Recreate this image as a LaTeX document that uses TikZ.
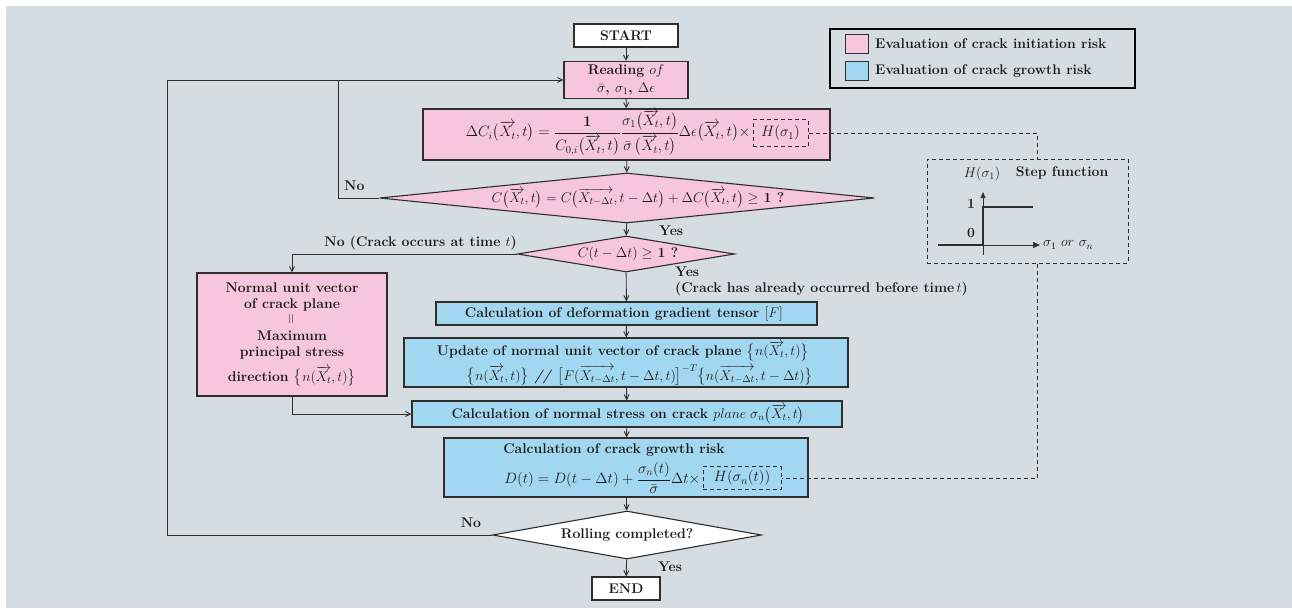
\RequirePackage{fix-cm}
\documentclass[tikz,border=0pt]{standalone}
\usepackage{amsmath}
\usetikzlibrary{shapes.geometric,arrows.meta}
\definecolor{bgc}{RGB}{213,221,227}
\definecolor{pinkc}{RGB}{245,198,221}
\definecolor{bluec}{RGB}{162,215,242}
\definecolor{linec}{RGB}{50,45,45}
\definecolor{txtc}{RGB}{30,25,25}
\newcommand\fs{\fontsize{14}{16}\selectfont\bfseries}
\newcommand\fm{\fontsize{15}{17}\selectfont\bfseries}
\newcommand\ovX[1]{\overrightarrow{X_{#1}}}
\tikzset{
  every node/.style={font=\fs, inner sep=0pt, text=txtc},
  box/.style={draw=linec, line width=1.1pt, rectangle, inner sep=0pt},
  dia/.style={draw=linec, line width=1.1pt, diamond, inner sep=0pt},
  arr/.style={draw=linec, line width=0.9pt, -{Straight Barb[length=5pt,width=5pt]}},
  conn/.style={draw=linec, line width=0.9pt},
  dsh/.style={draw=linec, line width=1pt, dash pattern=on 4pt off 3pt},
}
\begin{document}
\begin{tikzpicture}[x=1pt,y=-1pt]
\useasboundingbox (0,0) rectangle (1292,608);
\fill[white] (0,0) rectangle (1292,608);
\fill[bgc] (6,6) rectangle (1292,608);

% main column
\node[box, fill=white, minimum width=104, minimum height=23] (start) at (626,35.5) {START};
\node[box, fill=pinkc, minimum width=124, minimum height=37, align=center] (read) at (626,80)
  {\fontsize{14}{15}\selectfont Reading $of$\\[1.5pt] $\bar\sigma$\textbf{,} $\sigma_1$\textbf{,} $\Delta\epsilon$};
\node[box, fill=pinkc, minimum width=407, minimum height=51] (dc) at (626.5,134.5) {};
\node[dsh, inner sep=2pt, minimum width=55, minimum height=27, font=\fm] (hs1) at (780.5,133) {\mdseries $H(\sigma_1)$};
\node[anchor=east, font=\fm] (dcf) at ([xshift=-2pt]hs1.west)
  {$\Delta C_i\big(\ovX{t},t\big)=\dfrac{\mathbf{1}}{C_{0,i}\big(\ovX{t},t\big)}\dfrac{\sigma_1\big(\ovX{t},t\big)}{\bar\sigma\,\big(\ovX{t},t\big)}\Delta\epsilon\big(\ovX{t},t\big)\times$};

\node[dia, fill=pinkc, minimum width=495, minimum height=50] (d1) at (627,198) {};
\node (d1t) at (638,198) {$C\big(\ovX{t},t\big)=C\big(\ovX{t-\Delta t},t-\Delta t\big)+\Delta C\big(\ovX{t},t\big)\geq$ \textbf{1 ?}};

\node[dia, fill=pinkc, minimum width=217, minimum height=36] (d2) at (626,254) {};
\node (d2t) at (628,254) {$C(t-\Delta t)\geq$ \textbf{1 ?}};

\node[box, fill=pinkc, minimum width=190, minimum height=123, align=center] (norm) at (292,334.5)
  {\fontsize{14}{15.5}\selectfont Normal unit vector\\ of crack plane\\ \rotatebox{90}{$=$}\\ Maximum\\ principal stress\\[6pt] direction $\big\{n(\ovX{t},t)\big\}$};

\node[box, fill=bluec, minimum width=381, minimum height=23] (def) at (626.5,313.5) {};
\node (deft) at (624,313.5) {Calculation of deformation gradient tensor $[F]$};

\node[box, fill=bluec, minimum width=444, minimum height=49] (upd) at (626,362.5) {};
\node (updt1) at (623,351) {Update of normal unit vector of crack plane $\big\{n(\ovX{t},t)\big\}$};
\node (updt2) at (640,375) {$\big\{n(\ovX{t},t)\big\}$ \textbf{\textit{//}} $\big[F(\ovX{t-\Delta t},t-\Delta t,t)\big]^{-T}\big\{n(\ovX{t-\Delta t},t-\Delta t)\big\}$};

\node[box, fill=bluec, minimum width=430, minimum height=26] (stress) at (627,414) {};
\node (stresst) at (628,414) {Calculation of normal stress on crack $plane\;\sigma_n\big(\ovX{t},t\big)$};

\node[box, fill=bluec, minimum width=364, minimum height=59] (grow) at (626,467.5) {};
\node (growt) at (614,450) {Calculation of crack growth risk};
\node[dsh, inner sep=2pt, minimum width=78, minimum height=23, font=\fm] (hsn) at (742,478) {\mdseries $H(\sigma_n(t))$};
\node[anchor=east, font=\fm] (growf) at ([xshift=-2pt]hsn.west) {$D(t)=D(t-\Delta t)+\dfrac{\sigma_n(t)}{\bar\sigma}\Delta t\times$};

\node[dia, fill=white, minimum width=269, minimum height=48] (d3) at (627,535) {};
\node (d3t) at (627,535) {Rolling completed?};

\node[box, fill=white, minimum width=68, minimum height=23] (end) at (626,588.5) {END};

% connectors
\draw[arr] (start) -- (read);
\draw[arr] (read) -- (dc);
\draw[arr] (dc) -- (d1);
\draw[arr] (d1) -- (d2);
\draw[arr] (d2) -- (def);
\draw[arr] (def) -- (upd);
\draw[arr] (upd) -- (stress);
\draw[arr] (stress) -- (grow);
\draw[arr] (grow) -- (d3);
\draw[arr] (d3) -- (end);
\draw[arr] (d2.west) -| (norm.north);
\draw[arr] (norm.south) |- (stress.west);
\coordinate (lft) at (167,535);
\coordinate (j1) at (338,80);
\draw[arr] (d3.west) -- (lft) |- (read.west);
\draw[conn] (d1.west) -| (j1);

% labels
\node[anchor=west] (no1) at (344,186) {No};
\node[anchor=west] (yes1) at (659,231) {Yes};
\node[anchor=east] (no2) at (517,243) {No (Crack occurs at time $t$)};
\node[anchor=north west, align=left] (yes2) at (675,267) {Yes\\(Crack has already occurred before time\,$t$)};
\node (no3) at (471,523) {No};
\node (yes3) at (670,567) {Yes};

% legend
\node[draw=black, line width=2pt, minimum width=305, minimum height=59] (leg) at (982.5,58.5) {};
\node[box, fill=pinkc, line width=0.8pt, minimum width=23, minimum height=19] (lp) at (856.5,44) {};
\node[box, fill=bluec, line width=0.8pt, minimum width=23, minimum height=19] (lb) at (856.5,71) {};
\node[anchor=west] (lpt) at (875,44) {Evaluation of crack initiation risk};
\node[anchor=west] (lbt) at (875,71) {Evaluation of crack growth risk};

% step function
\node[dsh, minimum width=201, minimum height=104] (stepb) at (1027.5,211) {};
\draw[dsh] (hs1.east) -| ([xshift=9.5pt]stepb.north);
\draw[dsh] ([xshift=9.5pt]stepb.south) |- (hsn.east);
\node (hlab) at (982,174) {\mdseries $H(\sigma_1)$};
\node (slab) at (1062,173) {Step function};
\draw[linec, line width=0.6pt, -{Triangle[length=6pt,width=5pt]}] (983,255) -- (983,192);
\draw[linec, line width=0.6pt, -{Triangle[length=7pt,width=6pt]}] (983,245) -- (1040,245);
\draw[linec, line width=2pt] (938,245) -- (983,245) -- (983,207) -- (1033,207);
\node (one) at (971,204) {1};
\node (zero) at (971,233) {0};
\node[anchor=west] (axl) at (1043,245) {\mdseries $\sigma_1$ $or$ $\sigma_n$};
\end{tikzpicture}
\end{document}
